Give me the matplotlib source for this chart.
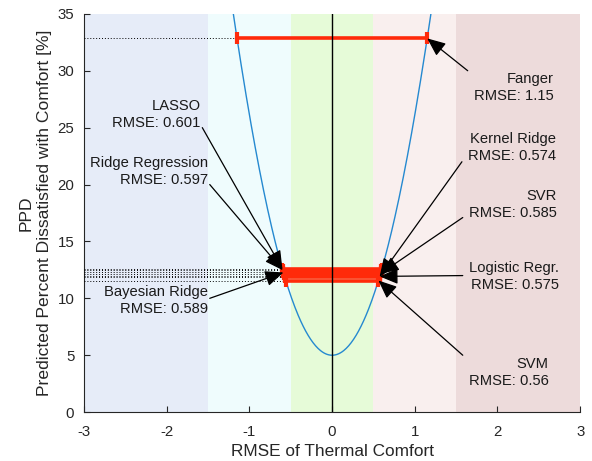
import numpy as np
import matplotlib
matplotlib.use("Agg")
import matplotlib.pyplot as plt

plt.rcParams["font.family"] = ["Liberation Sans", "DejaVu Sans"]

# ── data ─────────────────────────────────────────────────────────────────────
models = ["Fanger", "LASSO", "Ridge Regression", "Bayesian Ridge",
          "Kernel Ridge", "SVR", "Logistic Regr.", "SVM"]
rmse   = [1.15, 0.601, 0.597, 0.589, 0.574, 0.585, 0.575, 0.56]
side   = ["R", "L", "L", "L", "R", "R", "R", "R"]   # which end of the bar the arrow hits

# comfort bands on the PMV axis
band_edges  = [-3, -1.5, -0.5, 0.5, 1.5, 3]
band_colors = ["#e6ecf8", "#effcfd", "#e6fbd8", "#f9efee", "#eddbdb"]

xticks = [-3, -2, -1, 0, 1, 2, 3]
yticks = [0, 5, 10, 15, 20, 25, 30, 35]


def ppd(pmv):
    # Fanger PPD(PMV) relation, the curve the chart is built on
    pmv = np.asarray(pmv, dtype=float)
    return 100 - 95 * np.exp(-0.03353 * pmv ** 4 - 0.2179 * pmv ** 2)


# ── label placement: arrow tail, text anchor, alignment ──────────────────────
tails = {
    "Fanger":           (1.64, 30.0),
    "LASSO":            (-1.57, 25.0),
    "Ridge Regression": (-1.48, 20.0),
    "Bayesian Ridge":   (-1.48, 10.0),
    "Kernel Ridge":     (1.57, 22.0),
    "SVR":              (1.58, 17.1),
    "Logistic Regr.":   (1.58, 12.0),
    "SVM":              (1.58, 5.0),
}
texts = {
    "Fanger":           (1.72, 29.9, "left", "top"),
    "LASSO":            (-1.59, 24.8, "right", "bottom"),
    "Ridge Regression": (-1.50, 19.8, "right", "bottom"),
    "Bayesian Ridge":   (-1.50, 9.8, "right", "center"),
    "Kernel Ridge":     (1.64, 21.9, "left", "bottom"),
    "SVR":              (1.65, 16.9, "left", "bottom"),
    "Logistic Regr.":   (1.65, 11.9, "left", "center"),
    "SVM":              (1.65, 4.85, "left", "top"),
}

RED = "#ff2a0a"

fig = plt.figure(figsize=(5.92, 4.61), dpi=100)
ax = fig.add_axes([0.142, 0.106, 0.838, 0.864])

# bands
for i, c in enumerate(band_colors):
    ax.axvspan(band_edges[i], band_edges[i + 1], color=c, lw=0, zorder=0)

# PPD curve
xs = np.linspace(-3, 3, 601)
ax.plot(xs, ppd(xs), color="#2589d0", lw=1.0, zorder=2)

# dotted guides + red bars
for r in rmse:
    y = float(ppd(r))
    ax.plot([-3, -r], [y, y], color="k", ls=(0, (1, 2)), lw=0.7, zorder=3)
for r in rmse:
    y = float(ppd(r))
    ax.plot([-r, r], [y, y], color=RED, lw=2.6, solid_capstyle="butt", zorder=4)
    ax.plot([-r, r], [y, y], ls="none", marker="|", ms=8, mew=3.0, color=RED, zorder=4)

# center line
ax.axvline(0, color="k", lw=1.0, zorder=5)

# arrows and labels
for m, r, s in zip(models, rmse, side):
    hx = r if s == "R" else -r
    ax.annotate("", xy=(hx, float(ppd(r))), xytext=tails[m],
                arrowprops=dict(arrowstyle="-|>,head_length=0.75,head_width=0.32",
                                mutation_scale=15, color="k", lw=0.9,
                                shrinkA=0, shrinkB=0),
                zorder=6)
    tx, ty, ha, va = texts[m]
    ax.text(tx, ty, f"{m}\nRMSE: {r:g}", ha=ha, va=va, multialignment="right",
            fontsize=10.6, color="#1a1a1a", linespacing=1.3, zorder=7)

ax.set_xlim(-3, 3)
ax.set_ylim(0, 35)
ax.set_xticks(xticks)
ax.set_yticks(yticks)
ax.set_xticklabels([str(t) for t in xticks])
ax.tick_params(direction="in", length=4, labelsize=10.8, colors="#262626")
ax.tick_params(axis="x", pad=9)
ax.tick_params(axis="y", pad=7)
for sp in ["top", "right"]:
    ax.spines[sp].set_visible(False)
for sp in ["left", "bottom"]:
    ax.spines[sp].set_color("#262626")
    ax.spines[sp].set_linewidth(0.8)

ax.set_xlabel("RMSE of Thermal Comfort", fontsize=12.4, color="#262626", labelpad=4)
ax.set_ylabel("PPD\nPredicted Percent Dissatisfied with Comfort [%]",
              fontsize=12.6, color="#262626", labelpad=4, linespacing=1.25)

fig.savefig("out.png", dpi=100)
